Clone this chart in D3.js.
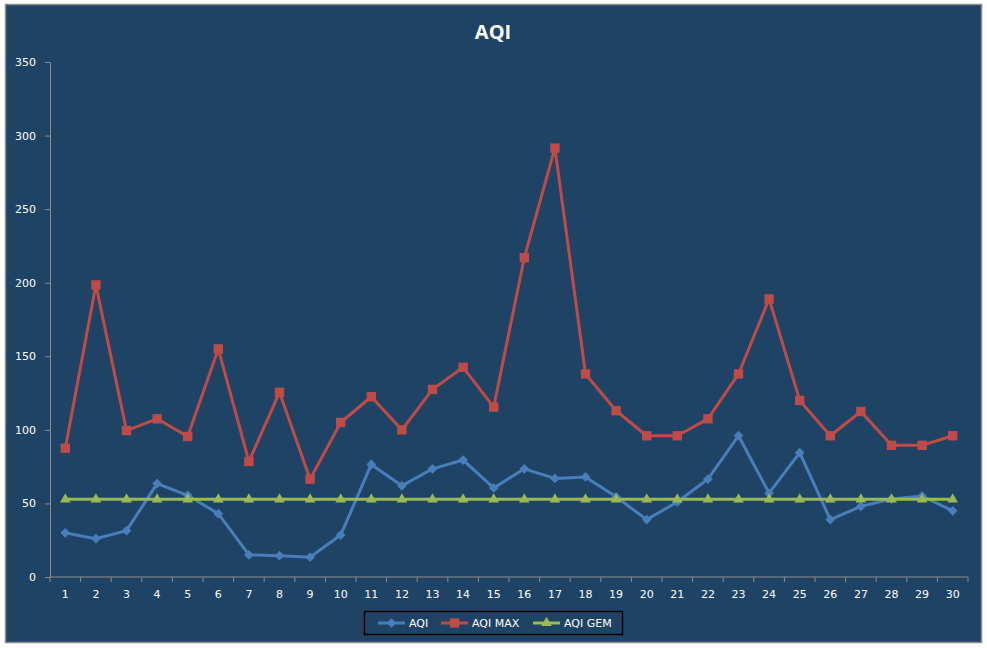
<!DOCTYPE html>
<html>
<head>
<meta charset="utf-8">
<script src="https://cdn.jsdelivr.net/npm/d3@7"></script>
<style>
  body { margin: 0; background: #fff; }
  text { font-family: "DejaVu Sans", Verdana, sans-serif; }
</style>
</head>
<body>
<svg id="chart" width="987" height="648"></svg>
<script>
// days of the month
var days = d3.range(1, 31);

// series values
var aqi = [30, 26, 31.5, 63.5, 55.5, 43, 15, 14.5, 13.5, 28.5, 76.5, 62, 73.5, 79.5, 60.5, 73.5, 67, 68, 54.5, 39, 51, 66.5, 96, 57, 84.5, 39, 48, 53, 55, 45];
var aqiMax = [87.5, 198.5, 99.5, 107.5, 95.5, 155, 78.5, 125.5, 66.5, 105, 122.5, 100, 127.5, 142.5, 115.5, 217, 291.5, 138, 113, 96, 96, 107.5, 138, 189, 120, 96, 112.5, 89.5, 89.5, 96];
var aqiGem = days.map(function () { return 52.8; });

var yTicks = [0, 50, 100, 150, 200, 250, 300, 350];

var series = [
  { name: "AQI", values: aqi, color: "#4A7EBB", marker: "diamond" },
  { name: "AQI MAX", values: aqiMax, color: "#BE4B48", marker: "square" },
  { name: "AQI GEM", values: aqiGem, color: "#98B954", marker: "triangle" }
];

var svg = d3.select("#chart");
var bg = "#1F4365";

// chart frame
svg.append("rect")
  .attr("x", 5.5).attr("y", 4.5)
  .attr("width", 976).attr("height", 638)
  .attr("fill", bg)
  .attr("stroke", "#8a8a8a")
  .attr("stroke-width", 1.5);

svg.append("text")
  .attr("x", 493).attr("y", 39)
  .attr("text-anchor", "middle")
  .attr("fill", "#fff")
  .style("font-family", "'Open Sans', sans-serif")
  .style("font-weight", "bold")
  .style("font-size", "20px")
  .text("AQI");

var x = d3.scaleBand().domain(days).range([50, 968]);
var y = d3.scaleLinear().domain([0, 350]).range([577, 62]);

// y axis
var yAxis = svg.append("g")
  .attr("transform", "translate(50,0)")
  .call(d3.axisLeft(y).tickValues(yTicks).tickSize(5).tickPadding(9));
yAxis.select(".domain").attr("stroke", "#8c8c8c");
yAxis.selectAll(".tick line").attr("stroke", "#8c8c8c");
yAxis.selectAll(".tick text")
  .attr("fill", "#fff")
  .style("font-size", "11px")
  .style("font-family", "'DejaVu Sans', sans-serif");

// x axis: ticks at category boundaries
var xAxis = svg.append("g")
  .attr("transform", "translate(0,577)")
  .call(d3.axisBottom(x).tickSize(0).tickPadding(13));
xAxis.select(".domain").attr("stroke", "#8c8c8c").attr("d", "M50,0H968");
xAxis.selectAll(".tick text")
  .attr("fill", "#fff")
  .style("font-size", "11px")
  .style("font-family", "'DejaVu Sans', sans-serif");
xAxis.selectAll("line.sep")
  .data(days.concat([31]))
  .enter().append("line")
  .attr("class", "sep")
  .attr("x1", function (d) { return d === 31 ? 968 : x(d); })
  .attr("x2", function (d) { return d === 31 ? 968 : x(d); })
  .attr("y1", 0).attr("y2", 5)
  .attr("stroke", "#8c8c8c");

function markerPath(type, size) {
  if (type === "diamond") return d3.symbol().type(d3.symbolDiamond2).size(size * 1.1)();
  if (type === "square") return d3.symbol().type(d3.symbolSquare).size(size * 1.6)();
  return d3.symbol().type(d3.symbolTriangle).size(size * 0.9)();
}

var line = d3.line()
  .x(function (d, i) { return x(days[i]) + x.bandwidth() / 2; })
  .y(function (d) { return y(d); });

// draw order: AQI, AQI MAX, AQI GEM
series.forEach(function (s) {
  var g = svg.append("g");
  g.append("path")
    .attr("d", line(s.values))
    .attr("fill", "none")
    .attr("stroke", s.color)
    .attr("stroke-width", 3)
    .attr("stroke-linejoin", "round");
  g.selectAll("path.m")
    .data(s.values)
    .enter().append("path")
    .attr("class", "m")
    .attr("d", markerPath(s.marker, 55))
    .attr("transform", function (d, i) {
      return "translate(" + (x(days[i]) + x.bandwidth() / 2) + "," + y(d) + ")";
    })
    .attr("fill", s.color);
});

// legend
var legend = svg.append("g");
legend.append("rect")
  .attr("x", 364.5).attr("y", 611.5)
  .attr("width", 258).attr("height", 23)
  .attr("fill", bg)
  .attr("stroke", "#000")
  .attr("stroke-width", 1.5);

var legendX = [378, 441, 533];
series.forEach(function (s, i) {
  var lx = legendX[i];
  var item = legend.append("g");
  item.append("line")
    .attr("x1", lx).attr("x2", lx + 27)
    .attr("y1", 623).attr("y2", 623)
    .attr("stroke", s.color).attr("stroke-width", 3);
  item.append("path")
    .attr("d", markerPath(s.marker, 55))
    .attr("transform", "translate(" + (lx + 13.5) + ",623)")
    .attr("fill", s.color);
  item.append("text")
    .attr("x", lx + 31).attr("y", 627)
    .attr("fill", "#fff")
    .style("font-size", "11px")
    .style("font-family", "'DejaVu Sans', sans-serif")
    .text(s.name);
});
</script>
</body>
</html>
